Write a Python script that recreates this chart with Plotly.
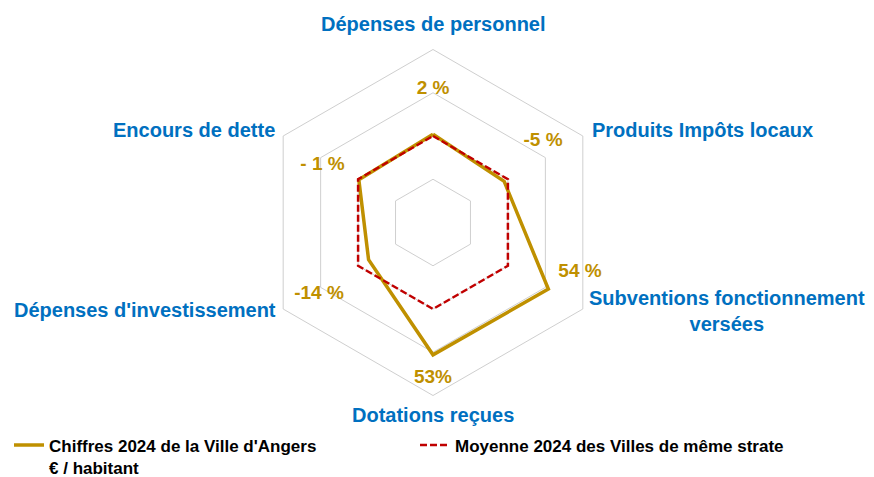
import math
import plotly.graph_objects as go

# ---- Data ----
categories = [
    "Dépenses de personnel",
    "Produits Impôts locaux",
    "Subventions fonctionnement<br>versées",
    "Dotations reçues",
    "Dépenses d'investissement",
    "Encours de dette",
]
angers = [1.02, 0.95, 1.54, 1.53, 0.86, 0.99]      # index vs strate average
moyenne = [1.00, 1.00, 1.00, 1.00, 1.00, 1.00]
pct_labels = ["2 %", "-5 %", "54 %", "53%", "-14 %", "- 1 %"]

series_names = ["Chiffres 2024 de la Ville d'Angers<br>€ / habitant",
                "Moyenne 2024 des Villes de même strate"]

# ---- Label placement (polar coords: r in index units, theta in degrees clockwise from top) ----
cat_r = [2.29, 2.11, 3.55, 2.22, 2.06, 2.10]
cat_theta = [0, 59.4, 106.8, 180, 240.75, 300.7]
cat_xanchor = ["center", "left", "center", "center", "right", "right"]
pct_r = [1.543, 1.578, 1.795, 1.803, 1.559, 1.436]
pct_theta = [0, 53.7, 108.8, 180, 237.7, 297.2]

GOLD = "#BF9000"
RED = "#C00000"
BLUE = "#0070C0"
GRID = "#CFCFCF"
FONT = "Liberation Sans, Arial, sans-serif"

W, H = 874, 477
cx, cy, R = 433, 222.5, 173
RMAX = 2.0
dom_x = [(cx - R) / W, (cx + R) / W]
dom_y = [1 - (cy + R) / H, 1 - (cy - R) / H]

fig = go.Figure()

closed_cats = categories + categories[:1]
fig.add_trace(go.Scatterpolar(
    r=angers + angers[:1], theta=closed_cats, mode="lines",
    line=dict(color=GOLD, width=3.5), name=series_names[0], subplot="polar",
))
fig.add_trace(go.Scatterpolar(
    r=moyenne + moyenne[:1], theta=closed_cats, mode="lines",
    line=dict(color=RED, width=2.5, dash="7px,3px"), name=series_names[1], subplot="polar",
))

# percentage labels
fig.add_trace(go.Scatterpolar(
    r=pct_r, theta=pct_theta, mode="text", text=pct_labels,
    textposition="middle center", cliponaxis=False, showlegend=False,
    textfont=dict(family=FONT, size=19, color=GOLD, weight="bold"),
    subplot="polar2", hoverinfo="skip",
))

# category labels (outside the radial range -> annotations placed from the same polar geometry)
for txt, r, th, xa in zip(categories, cat_r, cat_theta, cat_xanchor):
    px = cx + r * (R / RMAX) * math.sin(math.radians(th))
    py = cy - r * (R / RMAX) * math.cos(math.radians(th))
    fig.add_annotation(
        x=px / W, y=1 - py / H, xref="paper", yref="paper",
        text=txt, showarrow=False, xanchor=xa, yanchor="middle", align="center",
        font=dict(family=FONT, size=20, color=BLUE, weight="bold"),
    )

hidden_angular = dict(type="linear", thetaunit="degrees", rotation=90, direction="clockwise",
                      showline=False, showgrid=False, showticklabels=False, ticks="")

fig.update_layout(
    width=W, height=H,
    margin=dict(l=0, r=0, t=0, b=0, autoexpand=False),
    paper_bgcolor="white",
    plot_bgcolor="white",
    polar=dict(
        domain=dict(x=dom_x, y=dom_y),
        bgcolor="white",
        gridshape="linear",
        radialaxis=dict(range=[0, RMAX], tickvals=[0.5, 1.0, 1.5, 2.0], showticklabels=False,
                        ticks="", showline=False, gridcolor=GRID, gridwidth=1),
        angularaxis=dict(type="category", rotation=90, direction="clockwise",
                         showticklabels=False, ticks="", showgrid=False,
                         showline=True, linecolor=GRID, linewidth=1),
    ),
    polar2=dict(
        domain=dict(x=dom_x, y=dom_y),
        bgcolor="rgba(0,0,0,0)",
        radialaxis=dict(range=[0, RMAX], visible=False),
        angularaxis=hidden_angular,
    ),
    showlegend=True,
    legend=dict(
        orientation="h", x=0.0103, xanchor="left", y=0.104, yanchor="top",
        font=dict(family=FONT, size=17, color="#000000", weight="bold"),
        valign="top", entrywidth=361, entrywidthmode="pixels",
        bgcolor="rgba(0,0,0,0)",
    ),
)

fig.write_html("out.html", config={"displayModeBar": False},
               post_script="document.body.style.margin='0';")
